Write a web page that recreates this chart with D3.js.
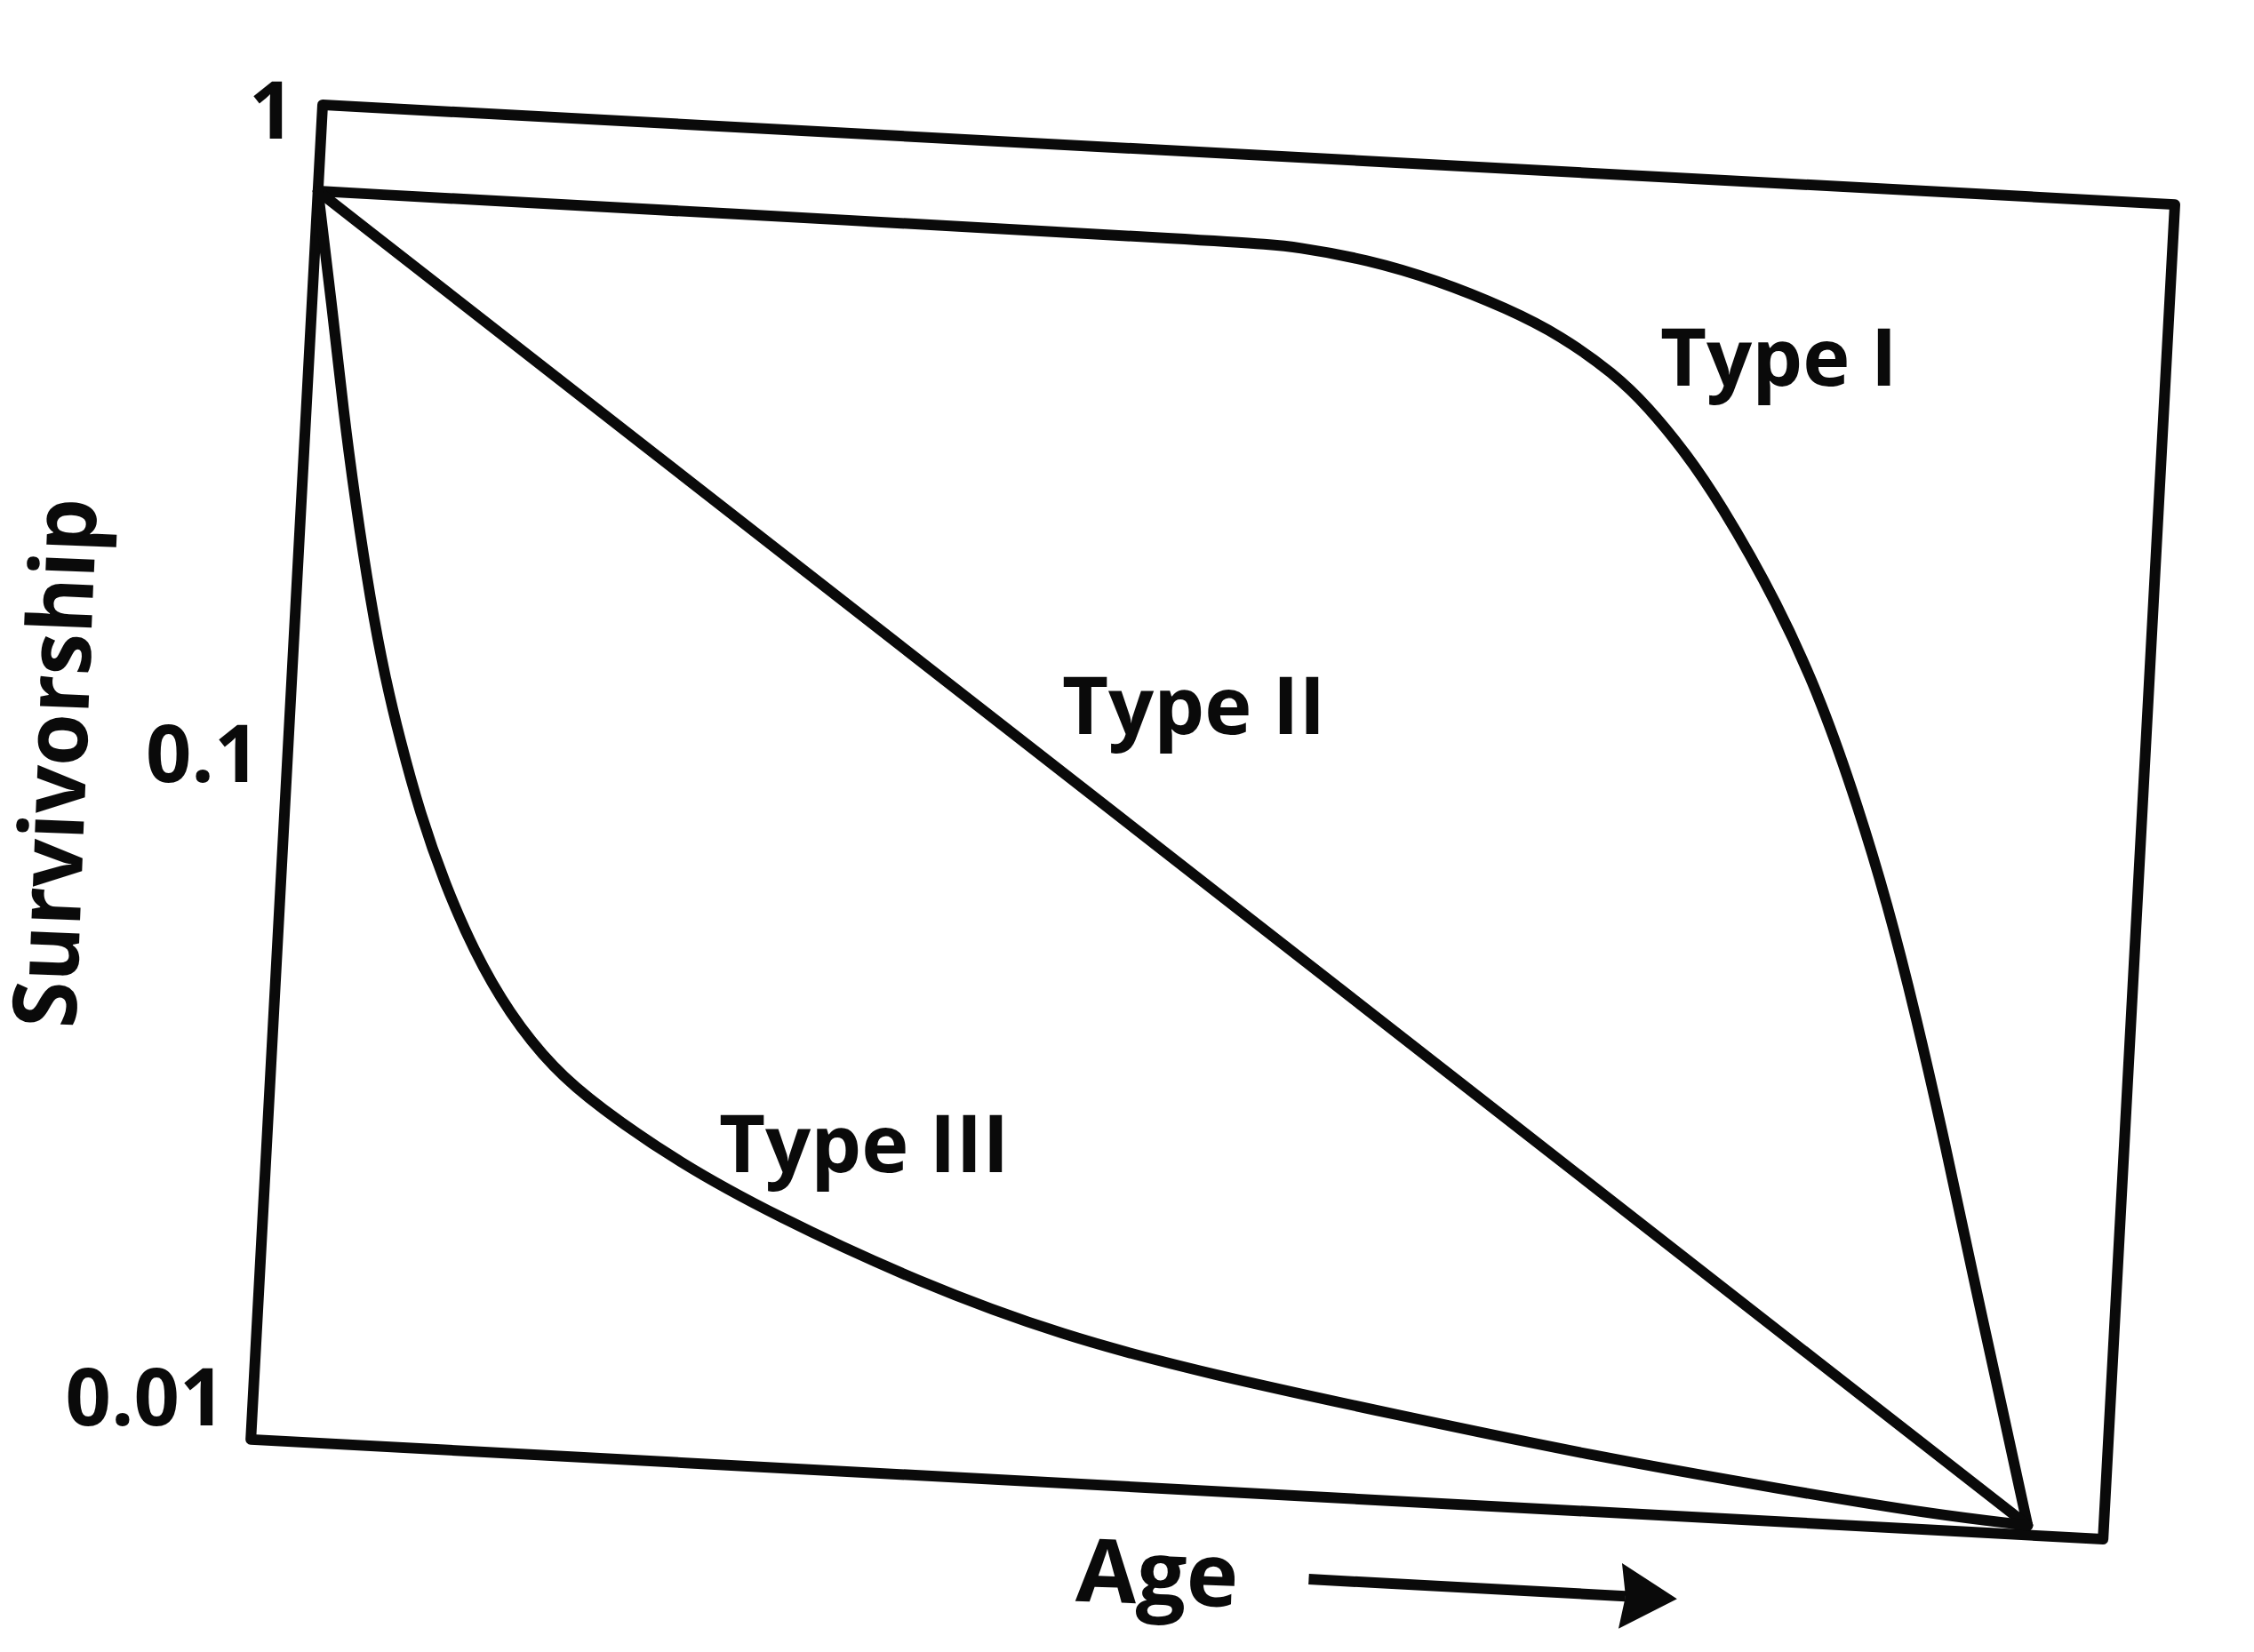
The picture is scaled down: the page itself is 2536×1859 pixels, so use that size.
<!DOCTYPE html>
<html>
<head>
<meta charset="utf-8">
<script src="https://cdn.jsdelivr.net/npm/d3@7"></script>
<style>
html,body{margin:0;padding:0;background:#ffffff;}
svg{display:block;}
</style>
</head>
<body>
<svg id="chart" width="2536" height="1859"></svg>
<script>
// ---------------- DATA ----------------
const ageDomain = [0, 100];
const survivorshipDomain = [0.01, 1];
const tickValues = [1, 0.1, 0.01];
const tickLabels = ["1", "0.1", "0.01"];
const seriesNames = ["Type I", "Type II", "Type III"];

const typeIAge  = [0, 21.2, 50.3, 52.9, 56.7, 60.5, 64.4, 67.3, 70.3, 72.2, 74.3, 76.3, 79.8, 82.5, 84.7, 86.5, 88.4, 90.4, 92.2, 94.1, 95.9];
const typeISurv = [0.758, 0.757, 0.755, 0.750, 0.726, 0.684, 0.626, 0.575, 0.507, 0.454, 0.390, 0.329, 0.230, 0.162, 0.113, 0.0814, 0.0545, 0.0342, 0.0219, 0.0139, 0.0090];

const typeIIAge  = [0, 95.9];
const typeIISurv = [0.758, 0.0090];

const typeIIIAge  = [0, 1.05, 2.04, 2.91, 4.02, 5.00, 5.99, 7.31, 8.80, 10.58, 12.67, 15.22, 17.73, 22.19, 27.52, 35.51, 43.42, 51.33, 61.85, 72.35, 82.78, 90.67, 95.9];
const typeIIISurv = [0.758, 0.511, 0.343, 0.252, 0.177, 0.136, 0.109, 0.0837, 0.0659, 0.0519, 0.0418, 0.0346, 0.0305, 0.0254, 0.0214, 0.0173, 0.0147, 0.0132, 0.0118, 0.0106, 0.00975, 0.0092, 0.0090];

const xTitle = "Age";
const yTitle = "Survivorship";

// ---------------- LAYOUT ----------------
const ink = "#0a0a0a";
const font = "'Open Sans', 'Noto Sans', 'DejaVu Sans', sans-serif";
const origin = [363, 118];      // top-left corner of the tilted plot frame
const tilt = 3.08;              // degrees, clockwise
const W = 2087, H = 1504;       // plot frame size (local units)
const strokeW = 12;

const rad = tilt * Math.PI / 180;
const cs = Math.cos(rad), sn = Math.sin(rad);
function toPage(lx, ly) {
  return [origin[0] + lx * cs - ly * sn, origin[1] + lx * sn + ly * cs];
}

const x = d3.scaleLinear().domain(ageDomain).range([0, W]);
const y = d3.scaleLog().domain(survivorshipDomain).range([1460, 10]);

const svg = d3.select("#chart");
svg.append("rect").attr("width", 2536).attr("height", 1859).attr("fill", "#fff");

const plot = svg.append("g")
  .attr("transform", `translate(${origin[0]},${origin[1]}) rotate(${tilt})`);

// frame
plot.append("rect")
  .attr("x", x(ageDomain[0])).attr("y", 0)
  .attr("width", x(ageDomain[1]) - x(ageDomain[0])).attr("height", H)
  .attr("fill", "none").attr("stroke", ink)
  .attr("stroke-width", strokeW).attr("stroke-linejoin", "round");

// curves
const series = [
  {name: seriesNames[0], age: typeIAge, surv: typeISurv},
  {name: seriesNames[1], age: typeIIAge, surv: typeIISurv},
  {name: seriesNames[2], age: typeIIIAge, surv: typeIIISurv}
];
const line = d3.line()
  .x(d => x(d[0])).y(d => y(d[1]))
  .curve(d3.curveBasis);

series.forEach(s => {
  const pts = s.age.map((a, i) => [a, s.surv[i]]);
  plot.append("path")
    .attr("d", line(pts))
    .attr("fill", "none").attr("stroke", ink)
    .attr("stroke-width", strokeW)
    .attr("stroke-linejoin", "round").attr("stroke-linecap", "round");
});

// arrow along age axis (in the tilted frame)
const arrowY = H + 93, arrowX0 = 1197, arrowBase = 1548, arrowTip = 1612, headHalf = 37;
plot.append("line")
  .attr("x1", arrowX0).attr("y1", arrowY).attr("x2", arrowBase + 6).attr("y2", arrowY)
  .attr("stroke", ink).attr("stroke-width", strokeW);
plot.append("path")
  .attr("d", `M${arrowTip},${arrowY} L${arrowBase},${arrowY - headHalf} L${arrowBase + 6},${arrowY} L${arrowBase},${arrowY + headHalf} Z`)
  .attr("fill", ink);

// tick labels (upright text, anchored at the tilted axis)
tickValues.forEach((v, i) => {
  const p = toPage(0, y(v));
  svg.append("text")
    .attr("x", p[0] - 31).attr("y", p[1] + 28)
    .attr("text-anchor", "end")
    .attr("font-family", font).attr("font-weight", 700).attr("font-size", 90)
    .attr("fill", ink)
    .text(tickLabels[i]);
});

// series labels
const labelPos = [[1868, 434, 90], [1195, 826, 90], [809, 1319, 90]];
seriesNames.forEach((n, i) => {
  svg.append("text")
    .attr("x", labelPos[i][0]).attr("y", labelPos[i][1])
    .attr("font-family", font).attr("font-weight", 700).attr("font-size", labelPos[i][2])
    .attr("fill", ink)
    .text(n);
});

// axis titles
svg.append("text")
  .attr("transform", "translate(1301,1805) rotate(2)")
  .attr("text-anchor", "middle")
  .attr("font-family", font).attr("font-weight", 700).attr("font-size", 99)
  .attr("fill", ink)
  .text(xTitle);

svg.append("text")
  .attr("transform", "translate(97,860) rotate(-87.7)")
  .attr("text-anchor", "middle")
  .attr("textLength", 596).attr("lengthAdjust", "spacingAndGlyphs")
  .attr("font-family", font).attr("font-weight", 700).attr("font-size", 100)
  .attr("fill", ink)
  .text(yTitle);
</script>
</body>
</html>
